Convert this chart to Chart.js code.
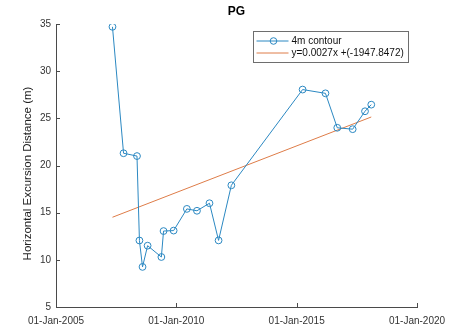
<!DOCTYPE html>
<html>
<head>
<meta charset="utf-8">
<script src="https://cdn.jsdelivr.net/npm/chart.js@4.4.1/dist/chart.umd.min.js"></script>
<style>
  html, body { margin: 0; padding: 0; background: #ffffff; }
  #wrap { width: 451px; height: 334px; position: relative; }
</style>
</head>
<body>
<div id="wrap"><canvas id="c"></canvas></div>
<script>
// Survey dates of the 4 m contour and its horizontal excursion distance (m)
const surveyDates = [
  '2007-05-08', '2007-10-23', '2008-05-14', '2008-06-20', '2008-08-06',
  '2008-10-22', '2009-05-19', '2009-06-21', '2009-11-21', '2010-06-10',
  '2010-11-10', '2011-05-19', '2011-10-04', '2012-04-15', '2015-04-01',
  '2016-03-13', '2016-09-08', '2017-04-30', '2017-11-03', '2018-02-06'
];
const excursion = [
  34.7, 21.3, 21.0, 12.05, 9.25,
  11.5, 10.3, 13.05, 13.1, 15.4,
  15.2, 16.0, 12.06, 17.9, 28.05,
  27.65, 24.0, 23.85, 25.75, 26.45
];
const xTickYears = [2005, 2010, 2015, 2020];
const yTickValues = [5, 10, 15, 20, 25, 30, 35];

const chartTitle = 'PG';
const yAxisTitle = 'Horizontal Excursion Distance (m)';
const seriesLabel = '4m contour';
const fitLabel = 'y=0.0027x +(-1947.8472)';

const DAY = 86400000;
const MONTHS = ['Jan','Feb','Mar','Apr','May','Jun','Jul','Aug','Sep','Oct','Nov','Dec'];
const FONT = '"Liberation Sans", Arial, Helvetica, sans-serif';
const BLUE = '#2b88c2';
const ORANGE = '#de7c48';
const AXIS = '#4a4a4a';

function toMs(s) {
  const [y, m, d] = s.split('-').map(Number);
  return Date.UTC(y, m - 1, d);
}
function fmtDate(ms) {
  const d = new Date(ms);
  return String(d.getUTCDate()).padStart(2, '0') + '-' + MONTHS[d.getUTCMonth()] + '-' + d.getUTCFullYear();
}

const xs = surveyDates.map(toMs);
const points = xs.map((x, i) => ({ x, y: excursion[i] }));

// Least-squares linear fit (x in days) drawn across the survey period
const days = xs.map(x => x / DAY);
const n = days.length;
const mx = days.reduce((a, b) => a + b, 0) / n;
const my = excursion.reduce((a, b) => a + b, 0) / n;
let sxy = 0, sxx = 0;
days.forEach((d, i) => { sxy += (d - mx) * (excursion[i] - my); sxx += (d - mx) * (d - mx); });
const slope = sxy / sxx;
const icpt = my - slope * mx;
const fitPoints = [xs[0], xs[n - 1]].map(x => ({ x, y: slope * (x / DAY) + icpt }));

// Inward tick marks, title, y-axis label and boxed legend in the MATLAB style
const decorations = {
  id: 'decorations',
  afterDraw(chart) {
    const { ctx, chartArea: ca, scales } = chart;
    ctx.save();
    ctx.strokeStyle = AXIS;
    ctx.lineWidth = 1;
    ctx.beginPath();
    scales.x.ticks.forEach(t => {
      const px = Math.round(scales.x.getPixelForValue(t.value)) + 0.5;
      ctx.moveTo(px, ca.bottom);
      ctx.lineTo(px, ca.bottom - 4);
    });
    scales.y.ticks.forEach(t => {
      const py = Math.round(scales.y.getPixelForValue(t.value)) + 0.5;
      ctx.moveTo(ca.left, py);
      ctx.lineTo(ca.left + 4, py);
    });
    ctx.stroke();

    // title
    ctx.fillStyle = '#000';
    ctx.font = 'bold 12px ' + FONT;
    ctx.textAlign = 'center';
    ctx.textBaseline = 'middle';
    ctx.fillText(chartTitle, (ca.left + ca.right) / 2, 12);

    // y-axis label
    ctx.save();
    ctx.translate(28, (ca.top + ca.bottom) / 2 + 8);
    ctx.rotate(-Math.PI / 2);
    ctx.fillStyle = '#222';
    ctx.font = '11.5px ' + FONT;
    ctx.fillText(yAxisTitle, 0, 0);
    ctx.restore();

    // legend
    const bx = ca.right - 163.5, by = ca.top + 7.5, bw = 155, bh = 31;
    ctx.fillStyle = '#fff';
    ctx.fillRect(bx, by, bw, bh);
    ctx.strokeStyle = '#6e6e6e';
    ctx.strokeRect(bx, by, bw, bh);
    const ds = chart.data.datasets;
    const rows = [by + 9.5, by + 21.5];
    ctx.font = '10px ' + FONT;
    ctx.textAlign = 'left';
    ds.forEach((d, i) => {
      const ry = rows[i];
      ctx.strokeStyle = d.borderColor;
      ctx.lineWidth = 1;
      ctx.beginPath();
      ctx.moveTo(bx + 3, ry);
      ctx.lineTo(bx + 35, ry);
      ctx.stroke();
      if (d.pointRadius > 0) {
        ctx.beginPath();
        ctx.arc(bx + 20, ry, 3.3, 0, Math.PI * 2);
        ctx.stroke();
      }
      ctx.fillStyle = '#111';
      ctx.fillText(d.label, bx + 38, ry + 0.5);
    });
    ctx.restore();
  }
};

new Chart(document.getElementById('c'), {
  type: 'line',
  data: {
    datasets: [
      {
        label: seriesLabel,
        data: points,
        borderColor: BLUE,
        borderWidth: 1,
        pointRadius: 3.4,
        pointBorderWidth: 1,
        pointBorderColor: BLUE,
        pointBackgroundColor: 'rgba(0,0,0,0)',
        tension: 0,
        fill: false
      },
      {
        label: fitLabel,
        data: fitPoints,
        borderColor: ORANGE,
        borderWidth: 1,
        pointRadius: 0,
        tension: 0,
        fill: false
      }
    ]
  },
  plugins: [decorations],
  options: {
    responsive: true,
    maintainAspectRatio: false,
    animation: false,
    events: [],
    layout: { padding: { top: 24, right: 34, left: 0, bottom: 0 } },
    plugins: { legend: { display: false }, tooltip: { enabled: false }, title: { display: false } },
    scales: {
      x: {
        type: 'linear',
        min: Date.UTC(2005, 0, 1),
        max: Date.UTC(2020, 0, 1),
        afterBuildTicks: s => { s.ticks = xTickYears.map(y => ({ value: Date.UTC(y, 0, 1) })); },
        afterFit: s => { s.height = 27; s.paddingLeft = 0; s.paddingRight = 0; },
        grid: { display: false, drawTicks: false },
        border: { display: true, color: AXIS, width: 1 },
        ticks: {
          autoSkip: false, maxRotation: 0, minRotation: 0, padding: 8,
          color: '#333', font: { family: FONT, size: 10 },
          callback: v => fmtDate(v)
        }
      },
      y: {
        type: 'linear',
        min: 5,
        max: 35,
        afterBuildTicks: s => { s.ticks = yTickValues.map(v => ({ value: v })); },
        afterFit: s => { s.width = 56; s.paddingTop = 0; s.paddingBottom = 0; },
        grid: { display: false, drawTicks: false },
        border: { display: true, color: AXIS, width: 1 },
        ticks: { padding: 5, color: '#333', font: { family: FONT, size: 10 } }
      }
    }
  }
});
</script>
</body>
</html>
